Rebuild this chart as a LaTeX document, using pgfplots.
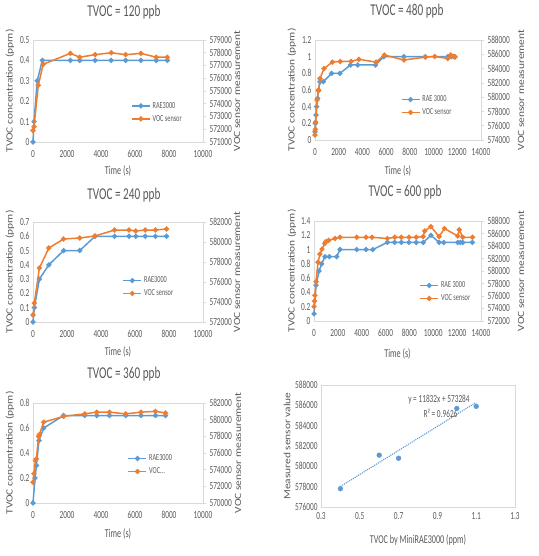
\documentclass[border=0pt]{standalone}
\usepackage{pgfplots}
\pgfplotsset{compat=1.18}
\usepackage{fontspec}
\setmainfont{Carlito}
\newfontfamily\hfont{Carlito}[FakeStretch=0.68]
\newfontfamily\vfont{Carlito}[FakeStretch=1.2]
\definecolor{cblue}{HTML}{5B9BD5}
\definecolor{corange}{HTML}{ED7D31}
\definecolor{linegray}{HTML}{D9D9D9}
\definecolor{txtgray}{HTML}{595959}
\newcommand\tickf{\hfont\fontsize{10.8}{11}\selectfont}
\newcommand\titf{\hfont\fontsize{16.5}{18}\selectfont}
\newcommand\xlabf{\hfont\fontsize{12}{13}\selectfont}
\newcommand\legf{\hfont\fontsize{9.2}{10}\selectfont}
\newcommand\ylabf{\vfont\fontsize{9.5}{10}\selectfont}
\pgfplotsset{
  common/.style={scale only axis, clip=false, scaled ticks=false,
    /pgf/number format/fixed,
    /pgf/number format/precision=3,
    /pgf/number format/1000 sep={},
    /pgf/number format/assume math mode=true,
    tick label style={font=\tickf, text=txtgray},
    axis line style={draw=linegray, line width=0.6pt},
    label style={text=txtgray}},
  leftax/.style={common, xtick pos=bottom, ytick pos=left, major tick length=0pt,
    xticklabel style={yshift=-5pt},
    xlabel style={font=\xlabf, anchor=base},
    ylabel style={font=\ylabf, anchor=center, rotate=0},
    title style={font=\titf, text=txtgray, anchor=base}},
  rightax/.style={common, hide x axis, axis y line*=right, ytick pos=right,
    tick align=outside, major tick length=3pt,
    major tick style={draw=linegray, line width=0.6pt},
    ylabel style={font=\ylabf, anchor=center, rotate=0},
    legend style={draw=none, fill=none, font=\legf, text=txtgray, anchor=west,
      row sep=1.5pt, inner sep=1pt,
      /tikz/every even column/.append style={column sep=1pt}},
    legend image code/.code={\draw[mark repeat=2,mark phase=2] plot coordinates {(0pt,0pt) (9pt,0pt) (18pt,0pt)};},
    legend cell align=left},
  bl/.style={color=cblue, line width=1.5pt, mark=*, mark size=1.8pt, mark options={solid}},
  or/.style={color=corange, line width=1.5pt, mark=*, mark size=1.8pt, mark options={solid}},
}
\begin{document}
\begin{tikzpicture}
\path[use as bounding box] (0pt,0pt) rectangle (538pt,-556pt);
% ---------------- Panel 1: 120 ppb
\begin{axis}[leftax, at={(33pt,-40pt)}, anchor=north west, width=170pt, height=102pt,
  xmin=0, xmax=10000, ymin=0, ymax=0.5,
  xtick={0,2000,4000,6000,8000,10000}, ytick={0,0.1,0.2,0.3,0.4,0.5},
  title={TVOC = 120 ppb}, title style={at={([yshift=17pt]axis description cs:0.535,1)}},
  xlabel={Time (s)}, xlabel style={at={([yshift=-33pt]axis description cs:0.5,0)}},
  ylabel={TVOC concentration (ppm)}, ylabel style={at={([xshift=-23pt]axis description cs:0,0.5)}}]
\addplot[bl] coordinates {(0,0) (60,0.1) (250,0.3) (550,0.4) (2200,0.4) (2750,0.4) (3650,0.4) (4600,0.4) (5450,0.4) (6350,0.4) (7250,0.4) (7900,0.4)};
\end{axis}
\begin{axis}[rightax, at={(33pt,-40pt)}, anchor=north west, width=170pt, height=102pt,
  xmin=0, xmax=10000, ymin=571000, ymax=579000,
  ytick={571000,572000,573000,574000,575000,576000,577000,578000,579000},
  ylabel={VOC sensor measurement}, ylabel style={at={([xshift=34pt]axis description cs:1,0.5)}},
  legend style={at={(0.57,0.29)}}]
\addlegendimage{bl}\addlegendentry{RAE3000}
\addplot[or] coordinates {(0,571900) (60,572200) (310,575450) (600,577100) (2200,577950) (2750,577650) (3650,577850) (4600,578000) (5450,577850) (6350,577950) (7250,577650) (7900,577650)};
\addlegendentry{VOC sensor}
\end{axis}
% ---------------- Panel 2: 480 ppb
\begin{axis}[leftax, at={(315pt,-40pt)}, anchor=north west, width=166pt, height=100pt,
  xmin=0, xmax=14000, ymin=0, ymax=1.2,
  xtick={0,2000,4000,6000,8000,10000,12000,14000}, ytick={0,0.2,0.4,0.6,0.8,1,1.2},
  title={TVOC = 480 ppb}, title style={at={([yshift=18pt]axis description cs:0.554,1)}},
  xlabel={Time (s)}, xlabel style={at={([yshift=-35pt]axis description cs:0.5,0)}},
  ylabel={TVOC concentration (ppm)}, ylabel style={at={([xshift=-23pt]axis description cs:0,0.5)}}]
\addplot[bl] coordinates {(0,0.1) (30,0.2) (80,0.3) (140,0.4) (220,0.5) (300,0.6) (420,0.7) (700,0.7) (1400,0.8) (2100,0.8) (3000,0.9) (3600,0.9) (5100,0.9) (5800,1.0) (7500,1.0) (9300,1.0) (11200,1.0) (11500,1.0) (11800,1.0)};
\end{axis}
\begin{axis}[rightax, at={(315pt,-40pt)}, anchor=north west, width=166pt, height=100pt,
  xmin=0, xmax=14000, ymin=574000, ymax=588000,
  ytick={574000,576000,578000,580000,582000,584000,586000,588000},
  ylabel={VOC sensor measurement}, ylabel style={at={([xshift=40pt]axis description cs:1,0.5)}},
  legend style={at={(0.51,0.34)}}]
\addlegendimage{bl}\addlegendentry{RAE 3000}
\addplot[or] coordinates {(0,574700) (30,575500) (60,576500) (170,579600) (300,580900) (420,582600) (760,584000) (1460,584900) (2130,585000) (3050,585000) (3700,585300) (5150,584900) (5850,585900) (7500,585200) (9300,585600) (10100,585700) (11200,585400) (11450,585900) (11700,585700) (11800,585600)};
\addlegendentry{VOC sensor}
\end{axis}
% ---------------- Panel 3: 240 ppb
\begin{axis}[leftax, at={(33pt,-222pt)}, anchor=north west, width=170pt, height=100pt,
  xmin=0, xmax=10000, ymin=0, ymax=0.7,
  xtick={0,2000,4000,6000,8000,10000}, ytick={0,0.1,0.2,0.3,0.4,0.5,0.6,0.7},
  title={TVOC = 240 ppb}, title style={at={([yshift=17pt]axis description cs:0.535,1)}},
  xlabel={Time (s)}, xlabel style={at={([yshift=-33pt]axis description cs:0.5,0)}},
  ylabel={TVOC concentration (ppm)}, ylabel style={at={([xshift=-23pt]axis description cs:0,0.5)}}]
\addplot[bl] coordinates {(0,0) (80,0.1) (375,0.3) (930,0.4) (1800,0.5) (2750,0.5) (3650,0.6) (4800,0.6) (5650,0.6) (6050,0.6) (6600,0.6) (7200,0.6) (7850,0.6)};
\end{axis}
\begin{axis}[rightax, at={(33pt,-222pt)}, anchor=north west, width=170pt, height=100pt,
  xmin=0, xmax=10000, ymin=572000, ymax=582000,
  ytick={572000,574000,576000,578000,580000,582000},
  ylabel={VOC sensor measurement}, ylabel style={at={([xshift=34pt]axis description cs:1,0.5)}},
  legend style={at={(0.52,0.35)}}]
\addlegendimage{bl}\addlegendentry{RAE3000}
\addplot[or] coordinates {(0,572700) (80,573900) (375,577400) (930,579400) (1800,580300) (2750,580400) (3650,580600) (4800,581200) (5650,581200) (6050,581100) (6600,581200) (7200,581200) (7850,581300)};
\addlegendentry{VOC sensor}
\end{axis}
% ---------------- Panel 4: 600 ppb
\begin{axis}[leftax, at={(314pt,-221pt)}, anchor=north west, width=167pt, height=100pt,
  xmin=0, xmax=14000, ymin=0, ymax=1.4,
  xtick={0,2000,4000,6000,8000,10000,12000,14000}, ytick={0,0.2,0.4,0.6,0.8,1,1.2,1.4},
  title={TVOC = 600 ppb}, title style={at={([yshift=19pt]axis description cs:0.545,1)}},
  xlabel={Time (s)}, xlabel style={at={([yshift=-36pt]axis description cs:0.5,0)}},
  ylabel={TVOC concentration (ppm)}, ylabel style={at={([xshift=-22pt]axis description cs:0,0.5)}}]
\addplot[bl] coordinates {(0,0.1) (170,0.5) (420,0.7) (640,0.8) (920,0.9) (1290,0.9) (1900,0.9) (2180,1.0) (3580,1.0) (4360,1.0) (4930,1.0) (6150,1.1) (6760,1.1) (7320,1.1) (7960,1.1) (8570,1.1) (9160,1.1) (9800,1.2) (10490,1.1) (10880,1.1) (12050,1.1) (12270,1.1) (12470,1.1) (13280,1.1)};
\end{axis}
\begin{axis}[rightax, at={(314pt,-221pt)}, anchor=north west, width=167pt, height=100pt,
  xmin=0, xmax=14000, ymin=572000, ymax=588000,
  ytick={572000,574000,576000,578000,580000,582000,584000,586000,588000},
  ylabel={VOC sensor measurement}, ylabel style={at={([xshift=40pt]axis description cs:1,0.5)}},
  legend style={at={(0.625,0.29)}}]
\addlegendimage{bl}\addlegendentry{RAE 3000}
\addplot[or] coordinates {(0,574300) (40,575200) (80,576100) (170,578300) (340,581400) (500,582700) (670,583500) (900,584400) (1000,584700) (1230,584900) (1760,585200) (2180,585400) (3580,585400) (4360,585400) (4860,585400) (6150,585200) (6760,585400) (7320,585400) (7960,585400) (8570,585400) (9150,585500) (9280,586400) (9800,587100) (10490,585500) (10930,586800) (12050,585600) (12180,586600) (12470,585400) (13280,585400)};
\addlegendentry{VOC sensor}
\end{axis}
% ---------------- Panel 5: 360 ppb
\begin{axis}[leftax, at={(33pt,-403pt)}, anchor=north west, width=170pt, height=100pt,
  xmin=0, xmax=10000, ymin=0, ymax=0.8,
  xtick={0,2000,4000,6000,8000,10000}, ytick={0,0.2,0.4,0.6,0.8},
  title={TVOC = 360 ppb}, title style={at={([yshift=19pt]axis description cs:0.535,1)}},
  xlabel={Time (s)}, xlabel style={at={([yshift=-34pt]axis description cs:0.5,0)}},
  ylabel={TVOC concentration (ppm)}, ylabel style={at={([xshift=-23pt]axis description cs:0,0.5)}}]
\addplot[bl] coordinates {(0,0) (120,0.2) (200,0.3) (350,0.5) (630,0.6) (1800,0.7) (3050,0.7) (3750,0.7) (4500,0.7) (5450,0.7) (6350,0.7) (7200,0.7) (7800,0.7)};
\end{axis}
\begin{axis}[rightax, at={(33pt,-403pt)}, anchor=north west, width=170pt, height=100pt,
  xmin=0, xmax=10000, ymin=570000, ymax=582000,
  ytick={570000,572000,574000,576000,578000,580000,582000},
  ylabel={VOC sensor measurement}, ylabel style={at={([xshift=35pt]axis description cs:1,0.5)}},
  legend style={at={(0.55,0.38)}}]
\addlegendimage{bl}\addlegendentry{RAE3000}
\addplot[or] coordinates {(0,572500) (60,573500) (140,575100) (200,575300) (330,578000) (370,578200) (630,579700) (1800,580400) (3050,580700) (3750,580900) (4500,580900) (5450,580700) (6350,580900) (7200,581000) (7800,580800)};
\addlegendentry{VOC...}
\end{axis}
% ---------------- Panel 6: scatter
\begin{axis}[common, at={(321pt,-385pt)}, anchor=north west, width=194pt, height=122pt,
  xmin=0.3, xmax=1.3, ymin=576000, ymax=588000,
  major tick length=0pt,
  xtick={0.3,0.5,0.7,0.9,1.1,1.3},
  ytick={576000,578000,580000,582000,584000,586000,588000},
  xticklabel style={yshift=-2pt},
  xlabel={TVOC by MiniRAE3000 (ppm)}, xlabel style={font=\xlabf, anchor=base, at={([yshift=-36pt]axis description cs:0.5,0)}},
  ylabel={Measured sensor value}, ylabel style={font=\ylabf, anchor=center, rotate=0, at={([xshift=-34pt]axis description cs:0,0.5)}}]
\addplot[cblue, densely dotted, line width=1.1pt] coordinates {(0.4,578017) (1.1,586299)};
\addplot[only marks, mark=*, mark size=2.4pt, color=cblue] coordinates {(0.4,577800) (0.6,581100) (0.7,580800) (1.0,585700) (1.1,585900)};
\node[font=\tickf, text=txtgray] at (axis cs:0.908,586550) {y = 11832x + 573284};
\node[font=\tickf, text=txtgray] at (axis cs:0.916,585250) {R² = 0.9626};
\end{axis}
\end{tikzpicture}
\end{document}
